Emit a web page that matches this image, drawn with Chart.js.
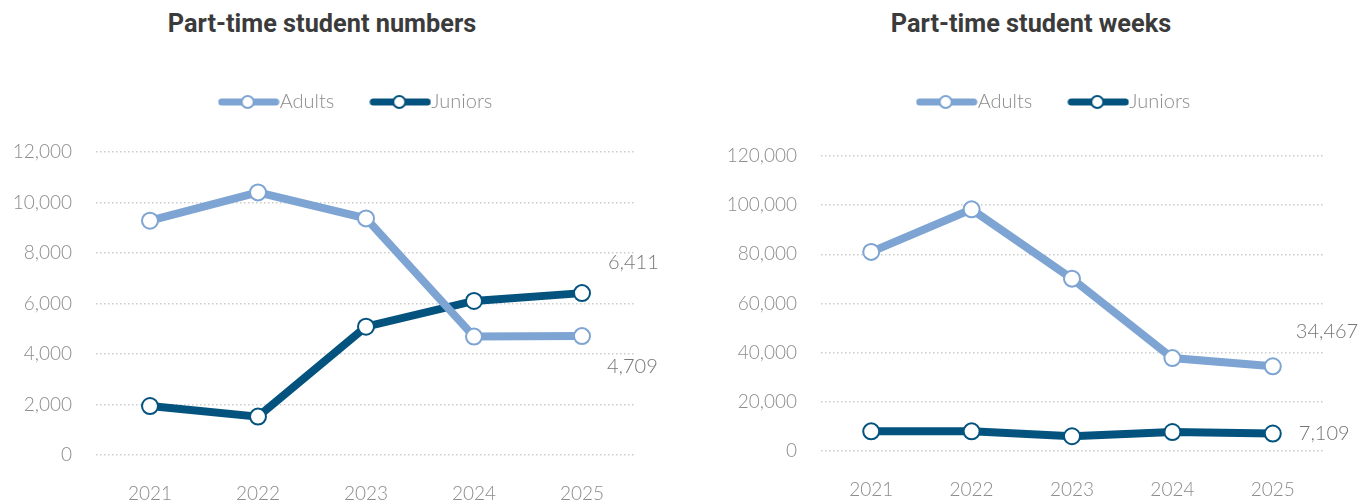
<!DOCTYPE html>
<html>
<head>
<meta charset="utf-8">
<script src="https://cdn.jsdelivr.net/npm/chart.js@4"></script>
<style>
  body { margin: 0; background: #fff; }
  #wrap { position: relative; width: 1368px; height: 502px; overflow: hidden; }
  #wrap canvas { position: absolute; top: 0; }
  .title {
    position: absolute; top: 9px; transform: translateX(-50%);
    font-family: Roboto, "Noto Sans", sans-serif; font-weight: 700; font-size: 25.3px;
    line-height: 30px; color: #3b3b3b; white-space: nowrap;
  }
</style>
</head>
<body>
<div id="wrap">
  <div class="title" style="left:322px">Part-time student numbers</div>
  <div class="title" style="left:1031px">Part-time student weeks</div>
  <canvas id="numbersChart" width="720" height="502" style="left:0"></canvas>
  <canvas id="weeksChart" width="748" height="502" style="left:684px"></canvas>
</div>
<script>
const years = ['2021', '2022', '2023', '2024', '2025'];
const seriesNames = ['Adults', 'Juniors'];
const adultNumbers = [9280, 10400, 9370, 4690, 4709];
const juniorNumbers = [1940, 1520, 5080, 6100, 6411];
const adultWeeks = [81000, 98300, 70100, 37800, 34467];
const juniorWeeks = [8000, 8000, 6000, 7700, 7109];
const numbersAxis = [0, 12000, 2000];
const weeksAxis = [0, 120000, 20000];

const ADULT_BLUE = '#7da4d2';
const JUNIOR_BLUE = '#04537f';
const GREY = '#8c8c8c';

// little line-with-marker swatch for the legend
function legendIcon(color) {
    const c = document.createElement('canvas');
    c.width = 62;
    c.height = 18;
    const g = c.getContext('2d');
    g.strokeStyle = color;
    g.lineWidth = 7;
    g.lineCap = 'round';
    g.beginPath();
    g.moveTo(4, 9);
    g.lineTo(58, 9);
    g.stroke();
    g.fillStyle = '#fff';
    g.lineWidth = 2;
    g.beginPath();
    g.arc(30, 9, 6, 0, Math.PI * 2);
    g.fill();
    g.stroke();
    return c;
}
const icons = [legendIcon(ADULT_BLUE), legendIcon(JUNIOR_BLUE)];

// writes the last value of each series beside its final point
const endLabels = {
    id: 'endLabels',
    afterDatasetsDraw(chart, args, opts) {
        const ctx = chart.ctx;
        ctx.save();
        ctx.font = '300 20px Lato';
        ctx.fillStyle = '#777';
        ctx.textAlign = 'left';
        ctx.textBaseline = 'middle';
        chart.data.datasets.forEach((ds, i) => {
            const pts = chart.getDatasetMeta(i).data;
            const last = pts[pts.length - 1];
            const off = opts.offsets[i];
            const value = ds.data[ds.data.length - 1];
            ctx.fillText(value.toLocaleString('en-US'), last.x + off[0], last.y + off[1]);
        });
        ctx.restore();
    }
};

function makeChart(id, adults, juniors, axis, cfg) {
    const tickFont = { family: 'Lato', weight: 300, size: 19 };
    const line = (label, data, color) => ({
        label: label,
        data: data,
        xAxisID: 'x',
        yAxisID: 'y',
        borderColor: color,
        borderWidth: 8,
        pointRadius: 8,
        pointHoverRadius: 8,
        pointBorderWidth: 2,
        pointBackgroundColor: '#fff',
        pointBorderColor: color,
        fill: false
    });
    return new Chart(document.getElementById(id), {
        type: 'line',
        data: {
            labels: years,
            datasets: [
                line(seriesNames[0], adults, ADULT_BLUE),
                line(seriesNames[1], juniors, JUNIOR_BLUE)
            ]
        },
        options: {
            responsive: false,
            animation: false,
            layout: { padding: { top: 47, left: 0, right: 0, bottom: 0 } },
            plugins: {
                tooltip: { enabled: false },
                legend: {
                    position: 'top',
                    labels: {
                        usePointStyle: true,
                        pointStyleWidth: 42,
                        padding: 45,
                        color: GREY,
                        font: { family: 'Lato', weight: 300, size: 20 },
                        generateLabels: chart => chart.data.datasets.map((ds, i) => ({
                            text: ds.label,
                            pointStyle: icons[i],
                            fontColor: GREY,
                            fillStyle: 'transparent',
                            strokeStyle: 'transparent',
                            lineWidth: 0,
                            hidden: false,
                            datasetIndex: i
                        }))
                    }
                },
                endLabels: { offsets: cfg.labelOffsets }
            },
            scales: {
                // empty axes used as spacers around the plot
                gap: {
                    type: 'category',
                    position: 'top',
                    grid: { display: false },
                    border: { display: false },
                    ticks: { display: false },
                    afterFit: s => { s.height = cfg.gapTop; }
                },
                side: {
                    type: 'linear',
                    position: 'right',
                    grid: { display: false },
                    border: { display: false },
                    ticks: { display: false },
                    afterFit: s => { s.width = cfg.gapRight; }
                },
                x: {
                    offset: true,
                    grid: { display: false },
                    border: { display: false },
                    ticks: { color: GREY, font: tickFont, padding: 19 },
                    afterFit: s => { s.height = cfg.xHeight; }
                },
                y: {
                    position: 'left',
                    min: axis[0],
                    max: axis[1],
                    ticks: { stepSize: axis[2], color: GREY, font: tickFont, padding: 24 },
                    grid: { color: '#cccccc', lineWidth: 1.5, drawTicks: false },
                    border: { display: false, dash: [1.5, 2.5] },
                    afterFit: s => { s.width = cfg.yWidth; }
                }
            }
        },
        plugins: [endLabels]
    });
}

makeChart('numbersChart', adultNumbers, juniorNumbers, numbersAxis, {
    yWidth: 96, gapRight: 84, gapTop: 30, xHeight: 47,
    labelOffsets: [[25, 30], [26, -31]]
});
makeChart('weeksChart', adultWeeks, juniorWeeks, weeksAxis, {
    yWidth: 137, gapRight: 109, gapTop: 34, xHeight: 51,
    labelOffsets: [[23, -35], [26, 0]]
});
</script>
</body>
</html>
